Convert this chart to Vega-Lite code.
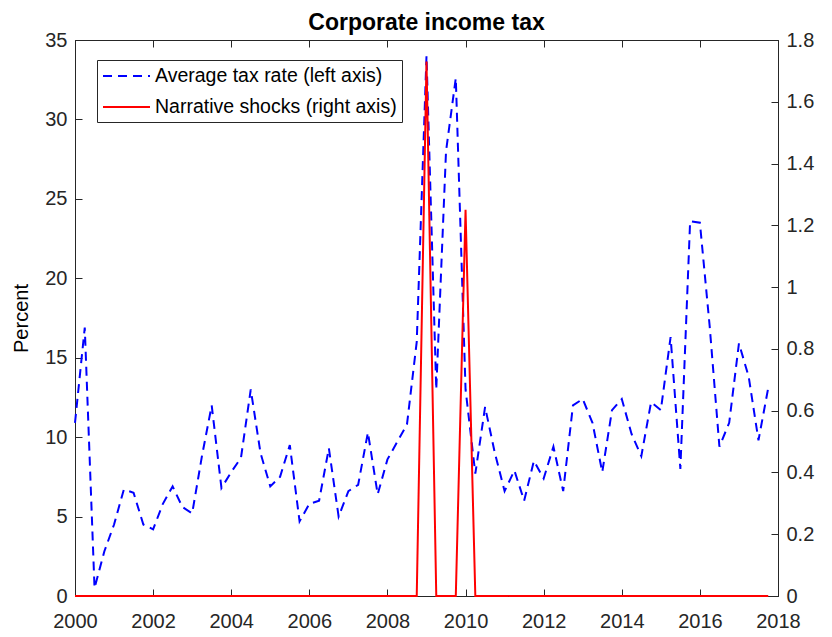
{
  "$schema": "https://vega.github.io/schema/vega-lite/v6.json",
  "width": 703,
  "height": 556,
  "autosize": {"type": "none"},
  "padding": {"left": 75, "top": 40, "right": 54, "bottom": 41},
  "background": "white",
  "title": {"text": "Corporate income tax", "fontSize": 23, "fontWeight": "bold", "font": "Liberation Sans", "color": "#000000", "offset": -5, "anchor": "middle"},
  "config": {
    "font": "Liberation Sans",
    "view": {"stroke": "#262626", "strokeWidth": 1},
    "axis": {"grid": false, "domainColor": "#262626", "tickColor": "#262626", "labelColor": "#262626", "titleColor": "#000000", "labelFontSize": 20, "titleFontSize": 20, "titleFontWeight": "normal", "tickSize": -7, "labelPadding": 15, "domainWidth": 1, "tickWidth": 1}
  },
  "data": {"values": [
    {"t": 2000.00, "rate": 10.9, "shock": 0}, {"t": 2000.25, "rate": 16.9, "shock": 0}, {"t": 2000.50, "rate": 0.5, "shock": 0}, {"t": 2000.75, "rate": 2.8, "shock": 0},
    {"t": 2001.00, "rate": 4.5, "shock": 0}, {"t": 2001.25, "rate": 6.7, "shock": 0}, {"t": 2001.50, "rate": 6.5, "shock": 0}, {"t": 2001.75, "rate": 4.5, "shock": 0},
    {"t": 2002.00, "rate": 4.2, "shock": 0}, {"t": 2002.25, "rate": 5.8, "shock": 0}, {"t": 2002.50, "rate": 6.9, "shock": 0}, {"t": 2002.75, "rate": 5.6, "shock": 0},
    {"t": 2003.00, "rate": 5.2, "shock": 0}, {"t": 2003.25, "rate": 8.8, "shock": 0}, {"t": 2003.50, "rate": 12.0, "shock": 0}, {"t": 2003.75, "rate": 6.8, "shock": 0},
    {"t": 2004.00, "rate": 7.8, "shock": 0}, {"t": 2004.25, "rate": 8.7, "shock": 0}, {"t": 2004.50, "rate": 13.0, "shock": 0}, {"t": 2004.75, "rate": 9.0, "shock": 0},
    {"t": 2005.00, "rate": 6.9, "shock": 0}, {"t": 2005.25, "rate": 7.5, "shock": 0}, {"t": 2005.50, "rate": 9.5, "shock": 0}, {"t": 2005.75, "rate": 4.7, "shock": 0},
    {"t": 2006.00, "rate": 5.8, "shock": 0}, {"t": 2006.25, "rate": 6.0, "shock": 0}, {"t": 2006.50, "rate": 9.3, "shock": 0}, {"t": 2006.75, "rate": 5.0, "shock": 0},
    {"t": 2007.00, "rate": 6.6, "shock": 0}, {"t": 2007.25, "rate": 7.0, "shock": 0}, {"t": 2007.50, "rate": 10.3, "shock": 0}, {"t": 2007.75, "rate": 6.4, "shock": 0},
    {"t": 2008.00, "rate": 8.6, "shock": 0}, {"t": 2008.25, "rate": 9.7, "shock": 0}, {"t": 2008.50, "rate": 10.8, "shock": 0}, {"t": 2008.75, "rate": 16.0, "shock": 0},
    {"t": 2009.00, "rate": 34.0, "shock": 1.73}, {"t": 2009.25, "rate": 13.0, "shock": 0}, {"t": 2009.50, "rate": 28.0, "shock": 0}, {"t": 2009.75, "rate": 32.6, "shock": 0},
    {"t": 2010.00, "rate": 13.0, "shock": 1.25}, {"t": 2010.25, "rate": 7.7, "shock": 0}, {"t": 2010.50, "rate": 11.9, "shock": 0}, {"t": 2010.75, "rate": 9.0, "shock": 0},
    {"t": 2011.00, "rate": 6.6, "shock": 0}, {"t": 2011.25, "rate": 7.9, "shock": 0}, {"t": 2011.50, "rate": 6.0, "shock": 0}, {"t": 2011.75, "rate": 8.5, "shock": 0},
    {"t": 2012.00, "rate": 7.4, "shock": 0}, {"t": 2012.25, "rate": 9.4, "shock": 0}, {"t": 2012.50, "rate": 6.6, "shock": 0}, {"t": 2012.75, "rate": 12.0, "shock": 0},
    {"t": 2013.00, "rate": 12.4, "shock": 0}, {"t": 2013.25, "rate": 10.9, "shock": 0}, {"t": 2013.50, "rate": 7.8, "shock": 0}, {"t": 2013.75, "rate": 11.7, "shock": 0},
    {"t": 2014.00, "rate": 12.4, "shock": 0}, {"t": 2014.25, "rate": 10.2, "shock": 0}, {"t": 2014.50, "rate": 8.8, "shock": 0}, {"t": 2014.75, "rate": 12.2, "shock": 0},
    {"t": 2015.00, "rate": 11.7, "shock": 0}, {"t": 2015.25, "rate": 16.3, "shock": 0}, {"t": 2015.50, "rate": 8.0, "shock": 0}, {"t": 2015.75, "rate": 23.6, "shock": 0},
    {"t": 2016.00, "rate": 23.5, "shock": 0}, {"t": 2016.25, "rate": 17.0, "shock": 0}, {"t": 2016.50, "rate": 9.4, "shock": 0}, {"t": 2016.75, "rate": 10.9, "shock": 0},
    {"t": 2017.00, "rate": 15.9, "shock": 0}, {"t": 2017.25, "rate": 13.8, "shock": 0}, {"t": 2017.50, "rate": 9.8, "shock": 0}, {"t": 2017.75, "rate": 13.1, "shock": 0}
  ]},
  "transform": [{"fold": ["rate", "shock"], "as": ["series", "value"]}],
  "layer": [
    {
      "transform": [{"filter": "datum.series == 'rate'"}],
      "mark": {"type": "line", "strokeWidth": 2},
      "encoding": {
        "x": {"field": "t", "type": "quantitative", "scale": {"domain": [2000, 2018], "nice": false, "zero": false},
              "axis": {"values": [2000, 2002, 2004, 2006, 2008, 2010, 2012, 2014, 2016, 2018], "format": "d", "title": null, "labelFlush": false, "labelPadding": 22}},
        "y": {"field": "value", "type": "quantitative", "scale": {"domain": [0, 35], "nice": false},
              "axis": {"values": [0, 5, 10, 15, 20, 25, 30, 35], "title": "Percent", "titlePadding": 13}},
        "color": {"field": "series", "type": "nominal", "scale": {"domain": ["rate", "shock"], "range": ["#0000ff", "#ff0000"]},
                  "legend": {"orient": "none", "legendX": 22, "legendY": 20, "title": null,
                             "labelExpr": "datum.label == 'rate' ? 'Average tax rate (left axis)' : 'Narrative shocks (right axis)'",
                             "labelFontSize": 19.5, "labelColor": "#000000", "labelLimit": 400,
                             "symbolType": "M-1,0H3.7", "symbolSize": 400, "symbolStrokeWidth": 2,
                             "strokeColor": "#262626", "fillColor": "white", "padding": 5, "rowPadding": 10, "labelOffset": 31, "cornerRadius": 0}},
        "strokeDash": {"field": "series", "type": "nominal", "scale": {"domain": ["rate", "shock"], "range": [[9, 6], [1, 0]]}}
      }
    },
    {
      "transform": [{"filter": "datum.series == 'shock'"}],
      "mark": {"type": "line", "strokeWidth": 2},
      "encoding": {
        "x": {"field": "t", "type": "quantitative",
              "axis": {"orient": "top", "labels": false, "domain": false, "values": [2000, 2002, 2004, 2006, 2008, 2010, 2012, 2014, 2016, 2018], "title": null}},
        "y": {"field": "value", "type": "quantitative", "scale": {"domain": [0, 1.8], "nice": false},
              "axis": {"orient": "right", "values": [0, 0.2, 0.4, 0.6, 0.8, 1, 1.2, 1.4, 1.6, 1.8], "format": "~g", "title": null}},
        "color": {"field": "series", "type": "nominal"},
        "strokeDash": {"field": "series", "type": "nominal"}
      }
    }
  ],
  "resolve": {"scale": {"y": "independent"}, "axis": {"x": "independent"}}
}
